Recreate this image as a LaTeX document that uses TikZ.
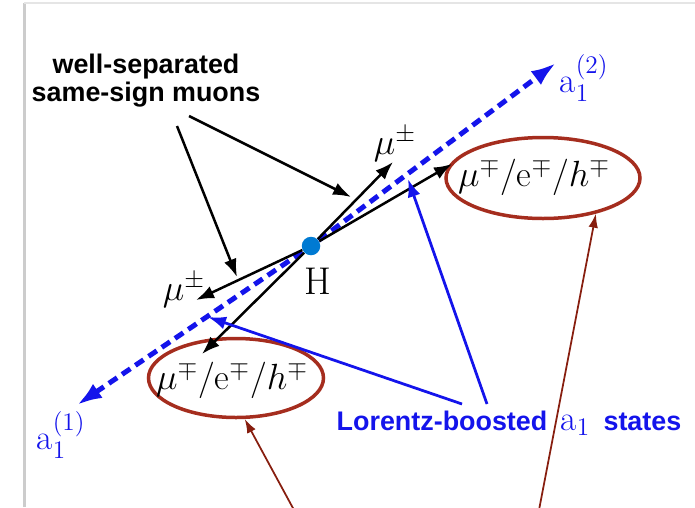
\documentclass[tikz,border=0pt]{standalone}
\usepackage{amsmath}
\usepackage{fontspec}
\setsansfont{Liberation Sans}
\usepackage{tikz}
\usetikzlibrary{arrows.meta,shapes.geometric,calc}
\definecolor{dotblue}{RGB}{0,122,210}
\definecolor{aoneblue}{RGB}{20,20,235}
\definecolor{ellred}{RGB}{165,45,30}
\definecolor{ptrred}{RGB}{135,30,15}

\begin{document}
\begin{tikzpicture}[x=0.2mm,y=-0.2mm,
   atip/.tip={Latex[length=5mm,width=3.4mm]},
   ptr/.style={line width=0.5mm,-{Latex[length=3.6mm,width=2.6mm]}},
   aline/.style={aoneblue,line width=1mm,dash pattern=on 2mm off 1.2mm},
   bptr/.style={aoneblue,line width=0.55mm,-{Latex[length=3.6mm,width=2.6mm]}},
   rptr/.style={ptrred,line width=0.35mm,-{Latex[length=2.8mm,width=1.9mm]}},
   ellip/.style={draw=ellred,line width=0.7mm,ellipse,inner sep=0pt},
   muon/.style={inner sep=0pt,font=\fontsize{20.5}{20}\selectfont},
   aname/.style={inner sep=0pt,text=aoneblue,font=\fontsize{20}{20}\selectfont},
   note/.style={inner sep=0pt,align=center,font=\sffamily\bfseries\fontsize{15.3}{15.9}\selectfont}]
  \useasboundingbox (0,0) rectangle (695,507);
  \draw[black!20,line width=0.6mm] (24,507) -- (24,3);
  \draw[black!10,line width=0.4mm] (24,3) -- (695,3);

  \node[circle,fill=dotblue,minimum size=3.7mm,inner sep=0pt] (H) at (311,246) {};
  \node[inner sep=0pt,font=\fontsize{22}{22}\selectfont] (Hname) at (318,281) {H};

  \coordinate (aone) at (77,405);
  \coordinate (atwo) at (556,63);
  \node[aname] (aonename) at (61,435) {$\mathrm{a}_1^{(1)}$};
  \node[aname] (atwoname) at (584,78) {$\mathrm{a}_1^{(2)}$};
  \draw[aline,atip-] (aone) -- (H);
  \draw[aline,-atip] (H) -- (atwo);

  \node[ellip,minimum width=38.8mm,minimum height=16.2mm] (ellup) at (543,178) {};
  \node[ellip,minimum width=35mm,minimum height=15.8mm] (elllow) at (236,378) {};
  \node[muon] (decup) at (534,177) {$\mu^\mp/\mathrm{e}^\mp/h^\mp$};
  \node[muon] (declow) at (232,380) {$\mu^\mp/\mathrm{e}^\mp/h^\mp$};
  \node[muon] (muup) at (395,144) {$\mu^\pm$};
  \node[muon] (mulow) at (184,290) {$\mu^\pm$};

  \coordinate (muupend) at (393,162);
  \coordinate (decupend) at (452,164);
  \coordinate (mulowend) at (196,300);
  \coordinate (declowend) at (202,354);
  \draw[ptr] (H) -- (muupend);
  \draw[ptr] (H) -- (decupend);
  \draw[ptr] (H) -- (mulowend);
  \draw[ptr] (H) -- (declowend);

  \node[note] (wellsep) at (146,81) {well-separated\\same-sign muons};
  \coordinate (wsA) at (189,116);
  \coordinate (wsB) at (177,126);
  \coordinate (wsAend) at (351,197);
  \coordinate (wsBend) at (237,277);
  \draw[ptr] (wsA) -- (wsAend);
  \draw[ptr] (wsB) -- (wsBend);

  \node[note,text=aoneblue] (boost) at (509,423) {Lorentz-boosted {\mdseries\fontsize{20}{20}\selectfont$\,\mathrm{a}_1$\,} states};
  \coordinate (lbA) at (462,404);
  \coordinate (lbB) at (487,404);
  \coordinate (lbAend) at (208,317);
  \coordinate (lbBend) at (408,179);
  \draw[bptr] (lbA) -- (lbAend);
  \draw[bptr] (lbB) -- (lbBend);

  \coordinate (brA) at (294,510);
  \coordinate (brB) at (539,510);
  \draw[rptr] (brA) -- (elllow.-78);
  \draw[rptr] (brB) -- (ellup.-34);
\end{tikzpicture}
\end{document}
